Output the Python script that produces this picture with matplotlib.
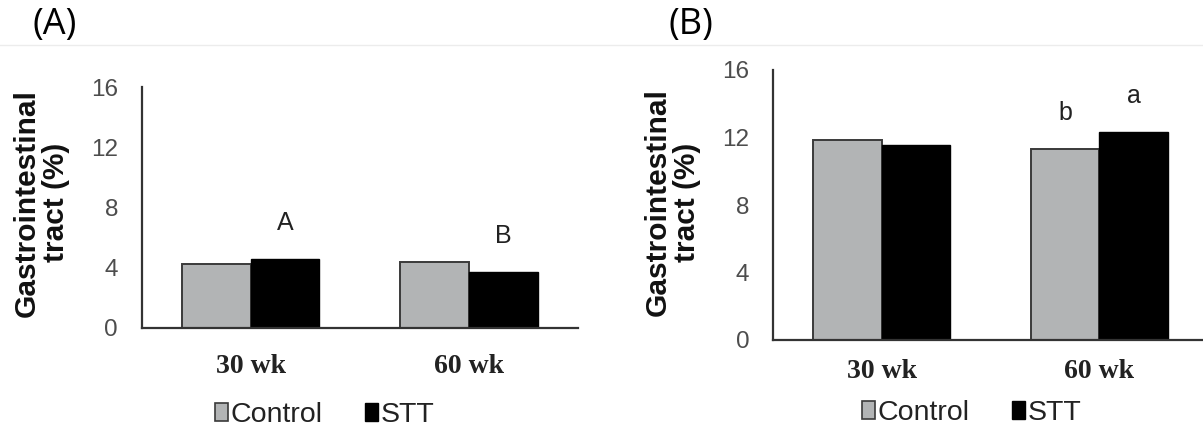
import matplotlib
matplotlib.use("Agg")
import matplotlib.pyplot as plt
from matplotlib.patches import Patch
from matplotlib.lines import Line2D
import numpy as np

# data
weeks = ["30 wk", "60 wk"]
series = ["Control", "STT"]
ctrl_a = [4.23, 4.38]
stt_a = [4.56, 3.74]
ctrl_b = [11.85, 11.3]
stt_b = [11.53, 12.33]
# significance letters: (group index, series index, letter)
letters_a = [(0, 1, "A"), (1, 1, "B")]
letters_b = [(1, 0, "b"), (1, 1, "a")]

W, H = 1203, 432
fig = plt.figure(figsize=(W / 100, H / 100), dpi=100)

gray = "#b2b4b5"
edge = "#3a3a3a"
tickcol = "#4d4d4d"
bw = 0.315


def panel(rect, ctrl, stt, letters, xpad, ylab_pos):
    ax = fig.add_axes(rect)
    x = np.arange(len(weeks))
    b1 = ax.bar(x - bw / 2, ctrl, bw, color=gray, edgecolor=edge, linewidth=1.4, zorder=2)
    b2 = ax.bar(x + bw / 2, stt, bw, color="black", edgecolor="black", linewidth=1.0, zorder=2)
    ax.set_xlim(-0.5, 1.5)
    ax.set_ylim(0, 16)
    ax.set_yticks([0, 4, 8, 12, 16])
    ax.set_xticks(x)
    ax.set_xticklabels(weeks, fontfamily="Liberation Serif", fontweight="bold", fontsize=20, color="#222222")
    for s in ["top", "right"]:
        ax.spines[s].set_visible(False)
    for s in ["left", "bottom"]:
        ax.spines[s].set_color("#333333")
        ax.spines[s].set_linewidth(1.6)
    ax.tick_params(axis="y", length=0, pad=17, labelsize=17.5, labelcolor=tickcol)
    ax.tick_params(axis="x", length=0, pad=xpad)
    for lab in ax.get_yticklabels():
        lab.set_fontfamily("Liberation Sans")
    bars = [b1, b2]
    for gi, si, t in letters:
        r = bars[si][gi]
        ax.annotate(t, (r.get_x() + r.get_width() / 2, r.get_height()),
                    xytext=(0, 26), textcoords="offset points", ha="center", va="center",
                    fontsize=18, fontfamily="Liberation Sans", color="#222222")
    ax.text(ylab_pos[0], ylab_pos[1], "Gastrointestinal\ntract (%)", transform=ax.transAxes,
            rotation=90, ha="center", va="center", fontsize=21.5, fontweight="bold",
            fontfamily="Liberation Sans", linespacing=1.05, color="#111111")
    return ax


axA = panel([141.6 / W, 104 / H, 436.4 / W, 241 / H], ctrl_a, stt_a, letters_a, 19, (-0.229, 0.52))
axB = panel([773 / W, 92 / H, 435 / W, 270 / H], ctrl_b, stt_b, letters_b, 14, (-0.231, 0.511))

handles = [Patch(facecolor=gray, edgecolor=edge, linewidth=1.2, label=series[0]),
           Patch(facecolor="black", edgecolor="black", label=series[1])]
for cx, cy in [(325, 415), (972, 413)]:
    fig.legend(handles=handles, loc="center", bbox_to_anchor=(cx / W, 1 - cy / H), ncol=2,
               frameon=False, prop={"family": "Liberation Sans", "size": 20.5},
               handlelength=0.45, handleheight=0.55, handletextpad=0.1, columnspacing=1.5,
               labelcolor="#222222")

fig.text(55 / W, 1 - 25 / H, "(A)", ha="center", va="center", fontsize=26, fontfamily="Open Sans")
fig.text(691 / W, 1 - 25 / H, "(B)", ha="center", va="center", fontsize=26, fontfamily="Open Sans")
fig.add_artist(Line2D([0, 1], [1 - 45 / H] * 2, color="#ececec", lw=1))

fig.savefig("out.png", dpi=100)
